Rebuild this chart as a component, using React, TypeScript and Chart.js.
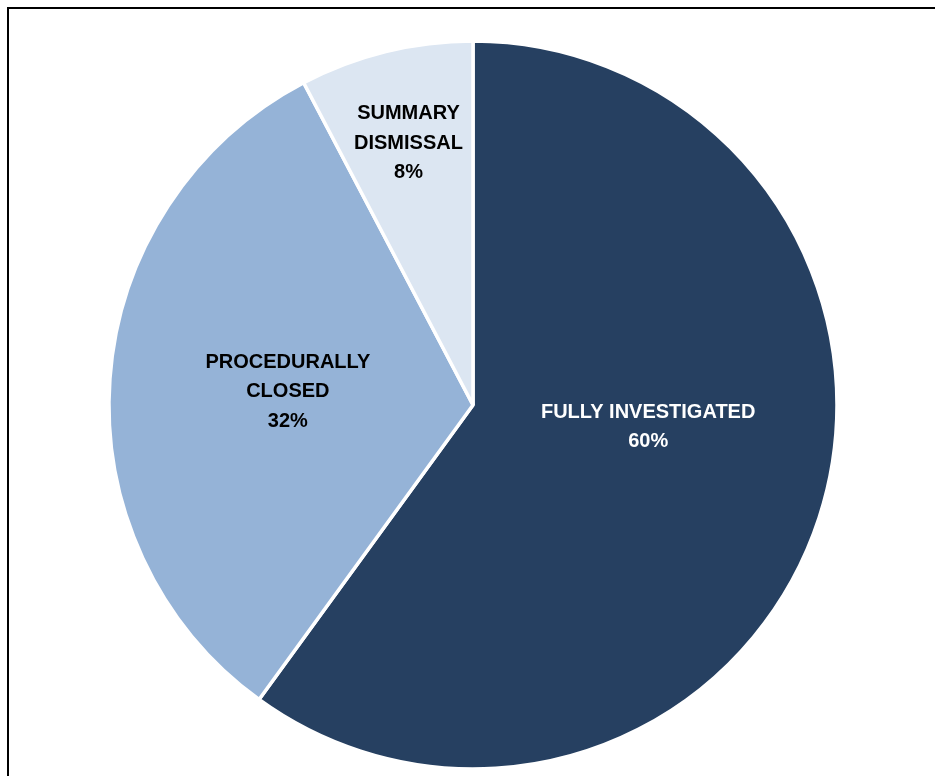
import React, { useEffect, useRef } from "react";
import { Chart, registerables } from "chart.js";

Chart.register(...registerables);

const categories: string[] = ["FULLY INVESTIGATED", "PROCEDURALLY CLOSED", "SUMMARY DISMISSAL"];
const labelLines: string[][] = [["FULLY INVESTIGATED"], ["PROCEDURALLY", "CLOSED"], ["SUMMARY", "DISMISSAL"]];
const values: number[] = [60, 32.3, 7.7];
const percentLabels: string[] = ["60%", "32%", "8%"];
const colors: string[] = ["#264061", "#95B3D7", "#DCE6F2"];
const textColors: string[] = ["#FFFFFF", "#000000", "#000000"];

// label anchoring: radial fraction of radius, and angular fraction within slice
const labelRadial: number[] = [0.485, 0.51, 0.74];
const labelAngular: number[] = [0.45, 0.5, 0.5];

const labelPlugin = {
  id: "sliceLabels",
  afterDatasetsDraw(chart: any) {
    const meta = chart.getDatasetMeta(0);
    const ctx = chart.ctx;
    ctx.save();
    ctx.font = "bold 20px 'Liberation Sans', Arial, sans-serif";
    ctx.textAlign = "center";
    ctx.textBaseline = "middle";
    const lineH = 29.5;
    meta.data.forEach((arc: any, i: number) => {
      const p = arc.getProps(["x", "y", "startAngle", "endAngle", "outerRadius"], true);
      const ang = p.startAngle + (p.endAngle - p.startAngle) * labelAngular[i];
      const r = p.outerRadius * labelRadial[i];
      const cx = p.x + Math.cos(ang) * r;
      const cy = p.y + Math.sin(ang) * r;
      const lines = [...labelLines[i], percentLabels[i]];
      const startY = cy - ((lines.length - 1) * lineH) / 2;
      ctx.fillStyle = textColors[i];
      lines.forEach((t, k) => ctx.fillText(t, cx, startY + k * lineH));
    });
    ctx.restore();
  },
};

export default function App() {
  const ref = useRef<HTMLCanvasElement | null>(null);
  useEffect(() => {
    if (!ref.current) return;
    const chart = new Chart(ref.current, {
      type: "pie",
      data: {
        labels: categories,
        datasets: [
          {
            data: values,
            backgroundColor: colors,
            borderColor: "#FFFFFF",
            borderWidth: 3.5,
            hoverOffset: 0,
          },
        ],
      },
      options: {
        responsive: false,
        animation: false,
        radius: 364,
        layout: { padding: 0 },
        plugins: {
          legend: { display: false },
          tooltip: { enabled: false },
          title: { display: false },
        },
        events: [],
      },
      plugins: [labelPlugin],
    });
    return () => chart.destroy();
  }, []);

  return (
    <div style={{ position: "fixed", left: 0, top: 0, width: 935, height: 776, overflow: "hidden", background: "#fff" }}>
      <div
        style={{
          position: "absolute",
          left: 7,
          top: 7,
          width: 1000,
          height: 1000,
          borderLeft: "2px solid #000",
          borderTop: "2px solid #000",
        }}
      />
      <canvas
        ref={ref}
        width={900}
        height={750}
        style={{ position: "absolute", left: 23, top: 30, width: 900, height: 750 }}
      />
    </div>
  );
}
